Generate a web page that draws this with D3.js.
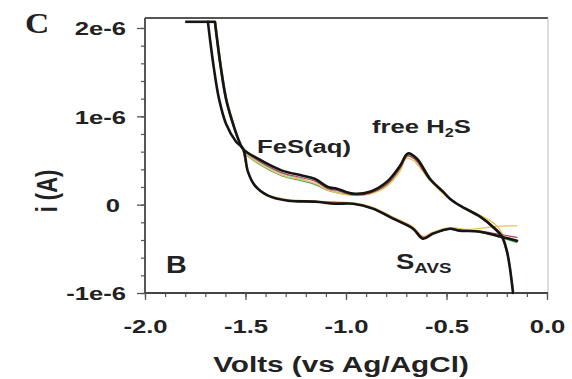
<!DOCTYPE html>
<html>
<head>
<meta charset="utf-8">
<script src="https://cdn.jsdelivr.net/npm/d3@7"></script>
<style>
  body { margin: 0; background: #fff; }
  svg { display: block; }
</style>
</head>
<body>
<div id="chart"></div>
<script>
// axis ticks (volts, microamps)
const voltTicks = [-2.0, -1.5, -1.0, -0.5, 0.0];
const voltTickLabels = ["-2.0", "-1.5", "-1.0", "-0.5", "0.0"];
const currentTicks = [-1, 0, 1, 2];
const currentTickLabels = ["-1e-6", "0", "1e-6", "2e-6"];

// voltammogram traces, [volts, current in 1e-6 A]
const blackFlat = [[-1.80, 2.07], [-1.655, 2.07]];
const blackUp = [[-1.652, 2.07], [-1.642, 1.88], [-1.622, 1.54], [-1.597, 1.20], [-1.567, 0.95],
  [-1.537, 0.75], [-1.512, 0.63], [-1.438, 0.52], [-1.318, 0.385], [-1.219, 0.33], [-1.154, 0.29],
  [-1.090, 0.20], [-1.045, 0.18], [-0.965, 0.125], [-0.881, 0.147], [-0.796, 0.26], [-0.731, 0.44],
  [-0.692, 0.58], [-0.647, 0.52], [-0.582, 0.29], [-0.517, 0.147], [-0.483, 0.068], [-0.433, -0.011],
  [-0.333, -0.136], [-0.259, -0.272], [-0.224, -0.362], [-0.199, -0.532], [-0.184, -0.725], [-0.169, -1.0]];
const blackDown = [[-0.149, -0.408], [-0.249, -0.351], [-0.333, -0.306], [-0.433, -0.294], [-0.483, -0.272],
  [-0.567, -0.328], [-0.617, -0.385], [-0.667, -0.272], [-0.766, -0.159], [-0.866, -0.045], [-0.965, 0.011],
  [-1.055, 0.011], [-1.154, 0.034], [-1.289, 0.045], [-1.388, 0.102], [-1.453, 0.215], [-1.488, 0.374],
  [-1.512, 0.634], [-1.547, 0.713], [-1.597, 0.917], [-1.632, 1.20], [-1.657, 1.54], [-1.677, 1.88], [-1.687, 2.07]];

const redUp = [[-1.655, 2.07], [-1.625, 1.54], [-1.600, 1.20], [-1.570, 0.95], [-1.538, 0.74], [-1.512, 0.62],
  [-1.438, 0.50], [-1.318, 0.36], [-1.219, 0.305], [-1.154, 0.265], [-1.090, 0.18], [-1.045, 0.16], [-0.965, 0.11],
  [-0.881, 0.13], [-0.796, 0.23], [-0.731, 0.41], [-0.695, 0.55], [-0.660, 0.52], [-0.582, 0.28], [-0.517, 0.14],
  [-0.483, 0.07], [-0.433, -0.01], [-0.333, -0.13], [-0.259, -0.26], [-0.224, -0.35], [-0.199, -0.52],
  [-0.184, -0.72], [-0.172, -0.95]];
const redDown = [[-0.150, -0.37], [-0.250, -0.33], [-0.333, -0.30], [-0.433, -0.29], [-0.483, -0.27],
  [-0.567, -0.32], [-0.617, -0.37], [-0.667, -0.26], [-0.766, -0.15], [-0.866, -0.04], [-0.965, 0.01],
  [-1.154, 0.035], [-1.289, 0.05], [-1.388, 0.10], [-1.453, 0.21], [-1.488, 0.38], [-1.512, 0.63]];

const yellowUp = [[-1.650, 2.07], [-1.620, 1.54], [-1.595, 1.20], [-1.565, 0.95], [-1.535, 0.73], [-1.512, 0.61],
  [-1.438, 0.475], [-1.318, 0.335], [-1.219, 0.28], [-1.154, 0.24], [-1.090, 0.165], [-0.965, 0.105], [-0.881, 0.12],
  [-0.796, 0.21], [-0.731, 0.38], [-0.700, 0.52], [-0.665, 0.50], [-0.582, 0.27], [-0.483, 0.06], [-0.400, -0.05],
  [-0.333, -0.12], [-0.259, -0.22], [-0.224, -0.32], [-0.199, -0.50], [-0.180, -0.75], [-0.167, -0.98]];
const yellowDown = [[-0.150, -0.24], [-0.250, -0.245], [-0.300, -0.26], [-0.400, -0.28], [-0.483, -0.26],
  [-0.567, -0.31], [-0.617, -0.36], [-0.667, -0.25], [-0.766, -0.14], [-0.866, -0.03], [-0.965, 0.02],
  [-1.154, 0.04], [-1.289, 0.06], [-1.388, 0.11], [-1.453, 0.22], [-1.488, 0.38], [-1.512, 0.61]];

const greenUp = [[-1.648, 2.07], [-1.618, 1.54], [-1.593, 1.20], [-1.563, 0.95], [-1.533, 0.72], [-1.510, 0.60],
  [-1.438, 0.465], [-1.318, 0.325], [-1.219, 0.27], [-1.154, 0.23], [-1.090, 0.16], [-0.965, 0.11], [-0.881, 0.13],
  [-0.796, 0.23], [-0.731, 0.41], [-0.695, 0.55], [-0.655, 0.51], [-0.582, 0.28], [-0.483, 0.065], [-0.333, -0.14],
  [-0.259, -0.28], [-0.224, -0.37], [-0.199, -0.55], [-0.182, -0.76], [-0.166, -1.0]];
const greenDown = [[-0.150, -0.43], [-0.250, -0.36], [-0.333, -0.31], [-0.433, -0.30], [-0.483, -0.28],
  [-0.567, -0.33], [-0.617, -0.38], [-0.667, -0.27], [-0.766, -0.16], [-0.866, -0.05], [-0.965, 0.01],
  [-1.154, 0.03], [-1.289, 0.045], [-1.388, 0.10], [-1.453, 0.21], [-1.488, 0.37], [-1.512, 0.62]];

const cyanUp = [[-1.512, 0.62], [-1.438, 0.49], [-1.318, 0.35], [-1.219, 0.29], [-1.090, 0.17], [-0.965, 0.11],
  [-0.881, 0.135], [-0.796, 0.245], [-0.731, 0.42], [-0.690, 0.56], [-0.640, 0.50], [-0.575, 0.29], [-0.483, 0.07],
  [-0.333, -0.14], [-0.259, -0.28], [-0.224, -0.38], [-0.199, -0.56], [-0.180, -0.78], [-0.165, -1.0]];
const cyanDown = [[-0.150, -0.42], [-0.250, -0.35], [-0.333, -0.31], [-0.483, -0.275], [-0.567, -0.33],
  [-0.617, -0.38], [-0.667, -0.27], [-0.766, -0.16], [-0.866, -0.045]];

const W = 572, H = 379;
const margin = { top: 18, right: 25, bottom: 86, left: 145 };
const STX = 1.35; // the figure is horizontally stretched

let svg = d3.select('#chart').append('svg')
  .attr('width', W).attr('height', H);

let x = d3.scaleLinear().domain([-2, 0]).range([margin.left, 547]);
let y = d3.scaleLinear().domain([-1, 2.113]).range([293, margin.top]);

let fontFam = "'Liberation Sans', Arial, sans-serif";

// frame: top and right
svg.append('line').attr('x1', margin.left).attr('x2', 548).attr('y1', 18).attr('y2', 18)
  .attr('stroke', '#555').attr('stroke-width', 2);
svg.append('line').attr('x1', 548).attr('x2', 548).attr('y1', 18).attr('y2', 293)
  .attr('stroke', '#bbb').attr('stroke-width', 1);

// minor ticks
let xMinor = d3.axisBottom(x).tickValues(d3.range(-2, 0.001, 0.1)).tickSize(4).tickFormat('');
svg.append('g').attr('transform', 'translate(0,293)').call(xMinor)
  .call(g => g.select('.domain').remove())
  .selectAll('line').attr('stroke', '#555').attr('stroke-width', 1.2);

let yMinor = d3.axisLeft(y).tickValues(d3.range(-1, 2.001, 0.2)).tickSize(4).tickFormat('');
svg.append('g').attr('transform', 'translate(' + margin.left + ',0)').call(yMinor)
  .call(g => g.select('.domain').remove())
  .selectAll('line').attr('stroke', '#555').attr('stroke-width', 1.2);

// major x axis
let xAxis = d3.axisBottom(x).tickValues(voltTicks).tickSize(7)
  .tickFormat((d, i) => voltTickLabels[i]).tickSizeOuter(0);
let gx = svg.append('g').attr('transform', 'translate(0,293)').call(xAxis);
gx.select('.domain').attr('stroke', '#444').attr('stroke-width', 1.8)
  .attr('d', 'M' + margin.left + ',0H548');
gx.selectAll('line').attr('stroke', '#555').attr('stroke-width', 1.3);
gx.selectAll('text').attr('y', 40).attr('dy', 0)
  .attr('font-family', fontFam).attr('font-weight', 'bold').attr('font-size', 19)
  .attr('fill', '#222').attr('transform', 'scale(' + STX + ',1)');

// major y axis
let yAxis = d3.axisLeft(y).tickValues(currentTicks).tickSize(8)
  .tickFormat((d, i) => currentTickLabels[i]).tickSizeOuter(0);
let gy = svg.append('g').attr('transform', 'translate(' + margin.left + ',0)').call(yAxis);
gy.select('.domain').attr('stroke', '#444').attr('stroke-width', 1.8)
  .attr('d', 'M0,18V293');
gy.selectAll('line').attr('stroke', '#555').attr('stroke-width', 1.3);
gy.selectAll('text').attr('x', d => (d === 0 ? -25 : -19) / STX).attr('dy', '0.36em')
  .attr('font-family', fontFam).attr('font-weight', 'bold').attr('font-size', 19)
  .attr('fill', '#222').attr('transform', 'scale(' + STX + ',1)');

// traces
let line = d3.line()
  .x(function (d) { return x(d[0]); })
  .y(function (d) { return y(d[1]); })
  .curve(d3.curveCatmullRom.alpha(0.5));

let plot = svg.append('g');

function trace(data, color, w) {
  plot.append('path').datum(data).attr('d', line)
    .attr('fill', 'none').attr('stroke', color).attr('stroke-width', w)
    .attr('stroke-linejoin', 'round').attr('stroke-linecap', 'round');
}

trace(cyanUp, '#7fd3c8', 1.2);
trace(cyanDown, '#7fd3c8', 1.2);
trace(greenUp, '#4aa55a', 1.2);
trace(greenDown, '#4aa55a', 1.2);
trace(yellowUp, '#e6c25e', 1.3);
trace(yellowDown, '#e6c25e', 1.3);
trace(redUp, '#b8404e', 1.2);
trace(redDown, '#b8404e', 1.2);

plot.append('path').datum(blackFlat)
  .attr('d', d3.line().x(d => x(d[0])).y(d => y(d[1])))
  .attr('fill', 'none').attr('stroke', '#151515').attr('stroke-width', 2.6);
trace(blackUp, '#151515', 2.6);
trace(blackDown, '#151515', 2.6);

// text labels
function label(tx, ty, str, size, opts) {
  opts = opts || {};
  let t = svg.append('text')
    .attr('transform', 'translate(' + tx + ',' + ty + ') scale(' + (opts.sx || STX) + ',1)' + (opts.rot ? ' rotate(' + opts.rot + ')' : ''))
    .attr('font-family', opts.family || fontFam)
    .attr('font-weight', 'bold')
    .attr('font-size', size)
    .attr('fill', '#222')
    .attr('text-anchor', opts.anchor || 'start');
  return t.text(str);
}

label(25, 33, 'C', 30, { family: "'Liberation Serif', 'Times New Roman', serif", sx: 1.12 });
label(57, 191, 'i (A)', 22, { anchor: 'middle', rot: -90 });
label(341, 372, 'Volts (vs Ag/AgCl)', 22, { anchor: 'middle' });
label(166, 273, 'B', 23, { sx: 1.25 });
label(257, 153, 'FeS(aq)', 19);

let h2s = label(372, 133, 'free H', 19);
h2s.append('tspan').attr('font-size', 12).attr('dy', 4).text('2');
h2s.append('tspan').attr('dy', -4).text('S');

let savs = label(396, 269, 'S', 22, { sx: 1.25 });
savs.append('tspan').attr('font-size', 15).attr('dy', 4).text('AVS');
</script>
</body>
</html>
